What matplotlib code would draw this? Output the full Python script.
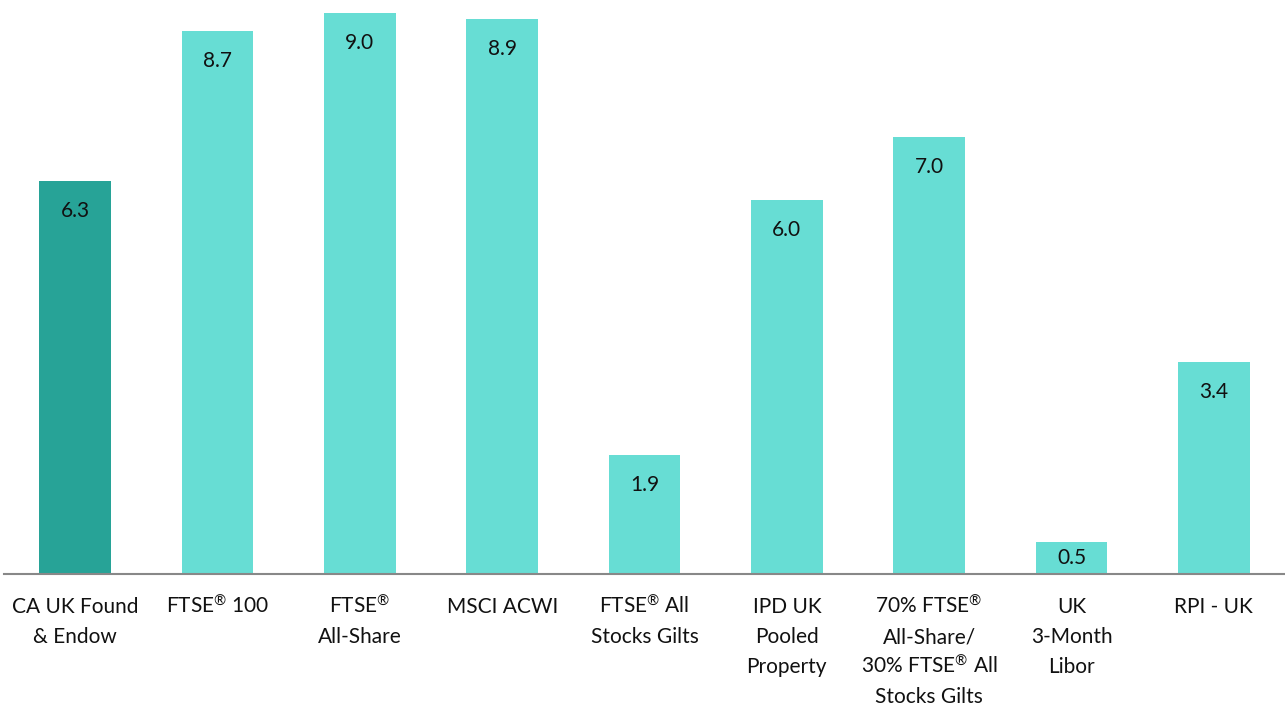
import matplotlib
matplotlib.use("Agg")
import matplotlib.pyplot as plt

plt.rcParams['font.family'] = ['Lato', 'DejaVu Sans']
plt.rcParams['mathtext.fontset'] = 'custom'
plt.rcParams['mathtext.rm'] = 'Lato'
plt.rcParams['mathtext.it'] = 'Lato:italic'
plt.rcParams['mathtext.bf'] = 'Lato:bold'

R = r"$^{\mathrm{®}}$"
categories = ["CA UK Found\n& Endow", f"FTSE{R} 100", f"FTSE{R}\nAll-Share", "MSCI ACWI",
              f"FTSE{R} All\nStocks Gilts", "IPD UK\nPooled\nProperty",
              f"70% FTSE{R}\nAll-Share/\n30% FTSE{R} All\nStocks Gilts", "UK\n3-Month\nLibor", "RPI - UK"]
values = [6.3, 8.7, 9.0, 8.9, 1.9, 6.0, 7.0, 0.5, 3.4]
labels = ["6.3", "8.7", "9.0", "8.9", "1.9", "6.0", "7.0", "0.5", "3.4"]

dark = "#27A397"
light = "#67DDD4"
colors = [dark] + [light] * (len(values) - 1)

fig = plt.figure(figsize=(12.85, 7.07), dpi=100)
ax = fig.add_axes([4/1285, (707-573.5)/707, 1281/1285, 573.5/707])
x = list(range(len(values)))
ax.bar(x, values, width=0.505, color=colors, zorder=2)
ax.set_xlim(-0.5, len(values) - 0.5)
ax.set_ylim(0, 573.5/62.3)

off = 30/62.3
for xi, v, lab in zip(x, values, labels):
    ax.text(xi, v - min(off, v/2), lab, ha='center', va='center', fontsize=15, color='#111111', zorder=3)

# category labels, one line at a time for even line spacing
ax.set_xticks(x)
ax.set_xticklabels([])
ax.tick_params(axis='x', length=0)
first = 28.6   # points below axis to first baseline
step = 21.6    # points between baselines
for xi, cat in zip(x, categories):
    for i, line in enumerate(cat.split("\n")):
        ax.annotate(line, xy=(xi, 0), xycoords='data',
                    xytext=(0, -(first + i * step)), textcoords='offset points',
                    ha='center', va='baseline', fontsize=15, color='#111111',
                    annotation_clip=False)

ax.set_yticks([])
for s in ['top', 'right', 'left']:
    ax.spines[s].set_visible(False)
ax.spines['bottom'].set_color('#888888')
ax.spines['bottom'].set_linewidth(1.5)
ax.spines['bottom'].set_zorder(3)

fig.savefig("out.png", dpi=100)
